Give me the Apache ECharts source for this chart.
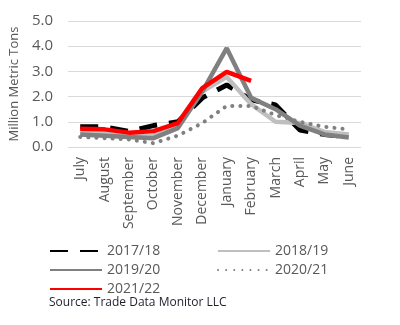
<!DOCTYPE html>
<html>
<head>
<meta charset="utf-8">
<script src="https://cdn.jsdelivr.net/npm/echarts@6/dist/echarts.min.js"></script>
<style>
  html, body { margin: 0; padding: 0; background: #fff; }
  #chart { width: 400px; height: 325px; }
</style>
</head>
<body>
<div id="chart"></div>
<script>
// Monthly volumes, million metric tons, marketing year July–June
const months = ['July', 'August', 'September', 'October', 'November', 'December',
                'January', 'February', 'March', 'April', 'May', 'June'];
const yTicks = [0, 1, 2, 3, 4, 5];

const y2017 = [0.80, 0.80, 0.62, 0.85, 1.00, 1.95, 2.46, 1.87, 1.67, 0.67, 0.50, 0.40];
const y2018 = [0.60, 0.55, 0.45, 0.45, 0.85, 2.20, 2.78, 1.70, 1.00, 0.95, 0.60, 0.50];
const y2019 = [0.50, 0.45, 0.40, 0.35, 0.75, 2.20, 3.92, 1.95, 1.50, 0.85, 0.50, 0.38];
const y2020 = [0.40, 0.35, 0.30, 0.15, 0.45, 0.95, 1.63, 1.63, 1.27, 1.00, 0.80, 0.70];
const y2021 = [0.72, 0.70, 0.57, 0.63, 0.95, 2.34, 2.98, 2.62];

const font = '"Open Sans", sans-serif';
const axisGray = '#595959';

function line(name, data, color, width, type, cap) {
  return {
    name, type: 'line', data, symbol: 'none', smooth: false,
    lineStyle: { color, width, type: type || 'solid', cap: cap || 'butt' },
    itemStyle: { color }
  };
}

const legendText = { color: axisGray, fontSize: 14, fontFamily: font };

// one legend block per entry so the two-column layout is exact
function legendAt(name, left, top) {
  return {
    data: [name], left, top, padding: 0, itemWidth: 52, itemHeight: 14,
    textStyle: legendText, itemStyle: { opacity: 0 }
  };
}

const option = {
  animation: false,
  backgroundColor: '#fff',
  grid: { left: 68, right: 39, top: 21, bottom: 178, containLabel: false },
  xAxis: {
    type: 'category', data: months, boundaryGap: true,
    axisLine: { show: false }, axisTick: { show: false },
    axisLabel: { rotate: 90, color: axisGray, fontSize: 14, fontFamily: font, margin: 10 }
  },
  yAxis: {
    type: 'value', min: 0, max: 5, interval: 1,
    name: 'Million Metric Tons', nameLocation: 'middle', nameGap: 43,
    nameTextStyle: { color: axisGray, fontSize: 13, fontFamily: font },
    axisLine: { show: false }, axisTick: { show: false },
    axisLabel: {
      color: axisGray, fontSize: 15, fontFamily: font, margin: 15,
      formatter: v => yTicks.includes(v) ? v.toFixed(1) : ''
    },
    splitLine: { lineStyle: { color: '#d9d9d9', width: 1 } }
  },
  legend: [
    legendAt('2017/18', 49, 244),
    legendAt('2018/19', 217, 244),
    legendAt('2019/20', 49, 263),
    legendAt('2020/21', 217, 263),
    legendAt('2021/22', 49, 282)
  ],
  graphic: [{
    type: 'text', left: 49, top: 297,
    style: { text: 'Source: Trade Data Monitor LLC', fill: '#1f1f2e', fontSize: 12, fontFamily: font }
  }],
  series: [
    line('2017/18', y2017, '#000000', 5, [18, 12]),
    line('2018/19', y2018, '#bfbfbf', 4.5),
    line('2019/20', y2019, '#808080', 4.5),
    line('2020/21', y2020, '#808080', 4, [0.1, 8], 'round'),
    line('2021/22', y2021, '#ff0000', 4.5)
  ]
};

echarts.init(document.getElementById('chart'), null, { renderer: 'canvas' }).setOption(option);
</script>
</body>
</html>
